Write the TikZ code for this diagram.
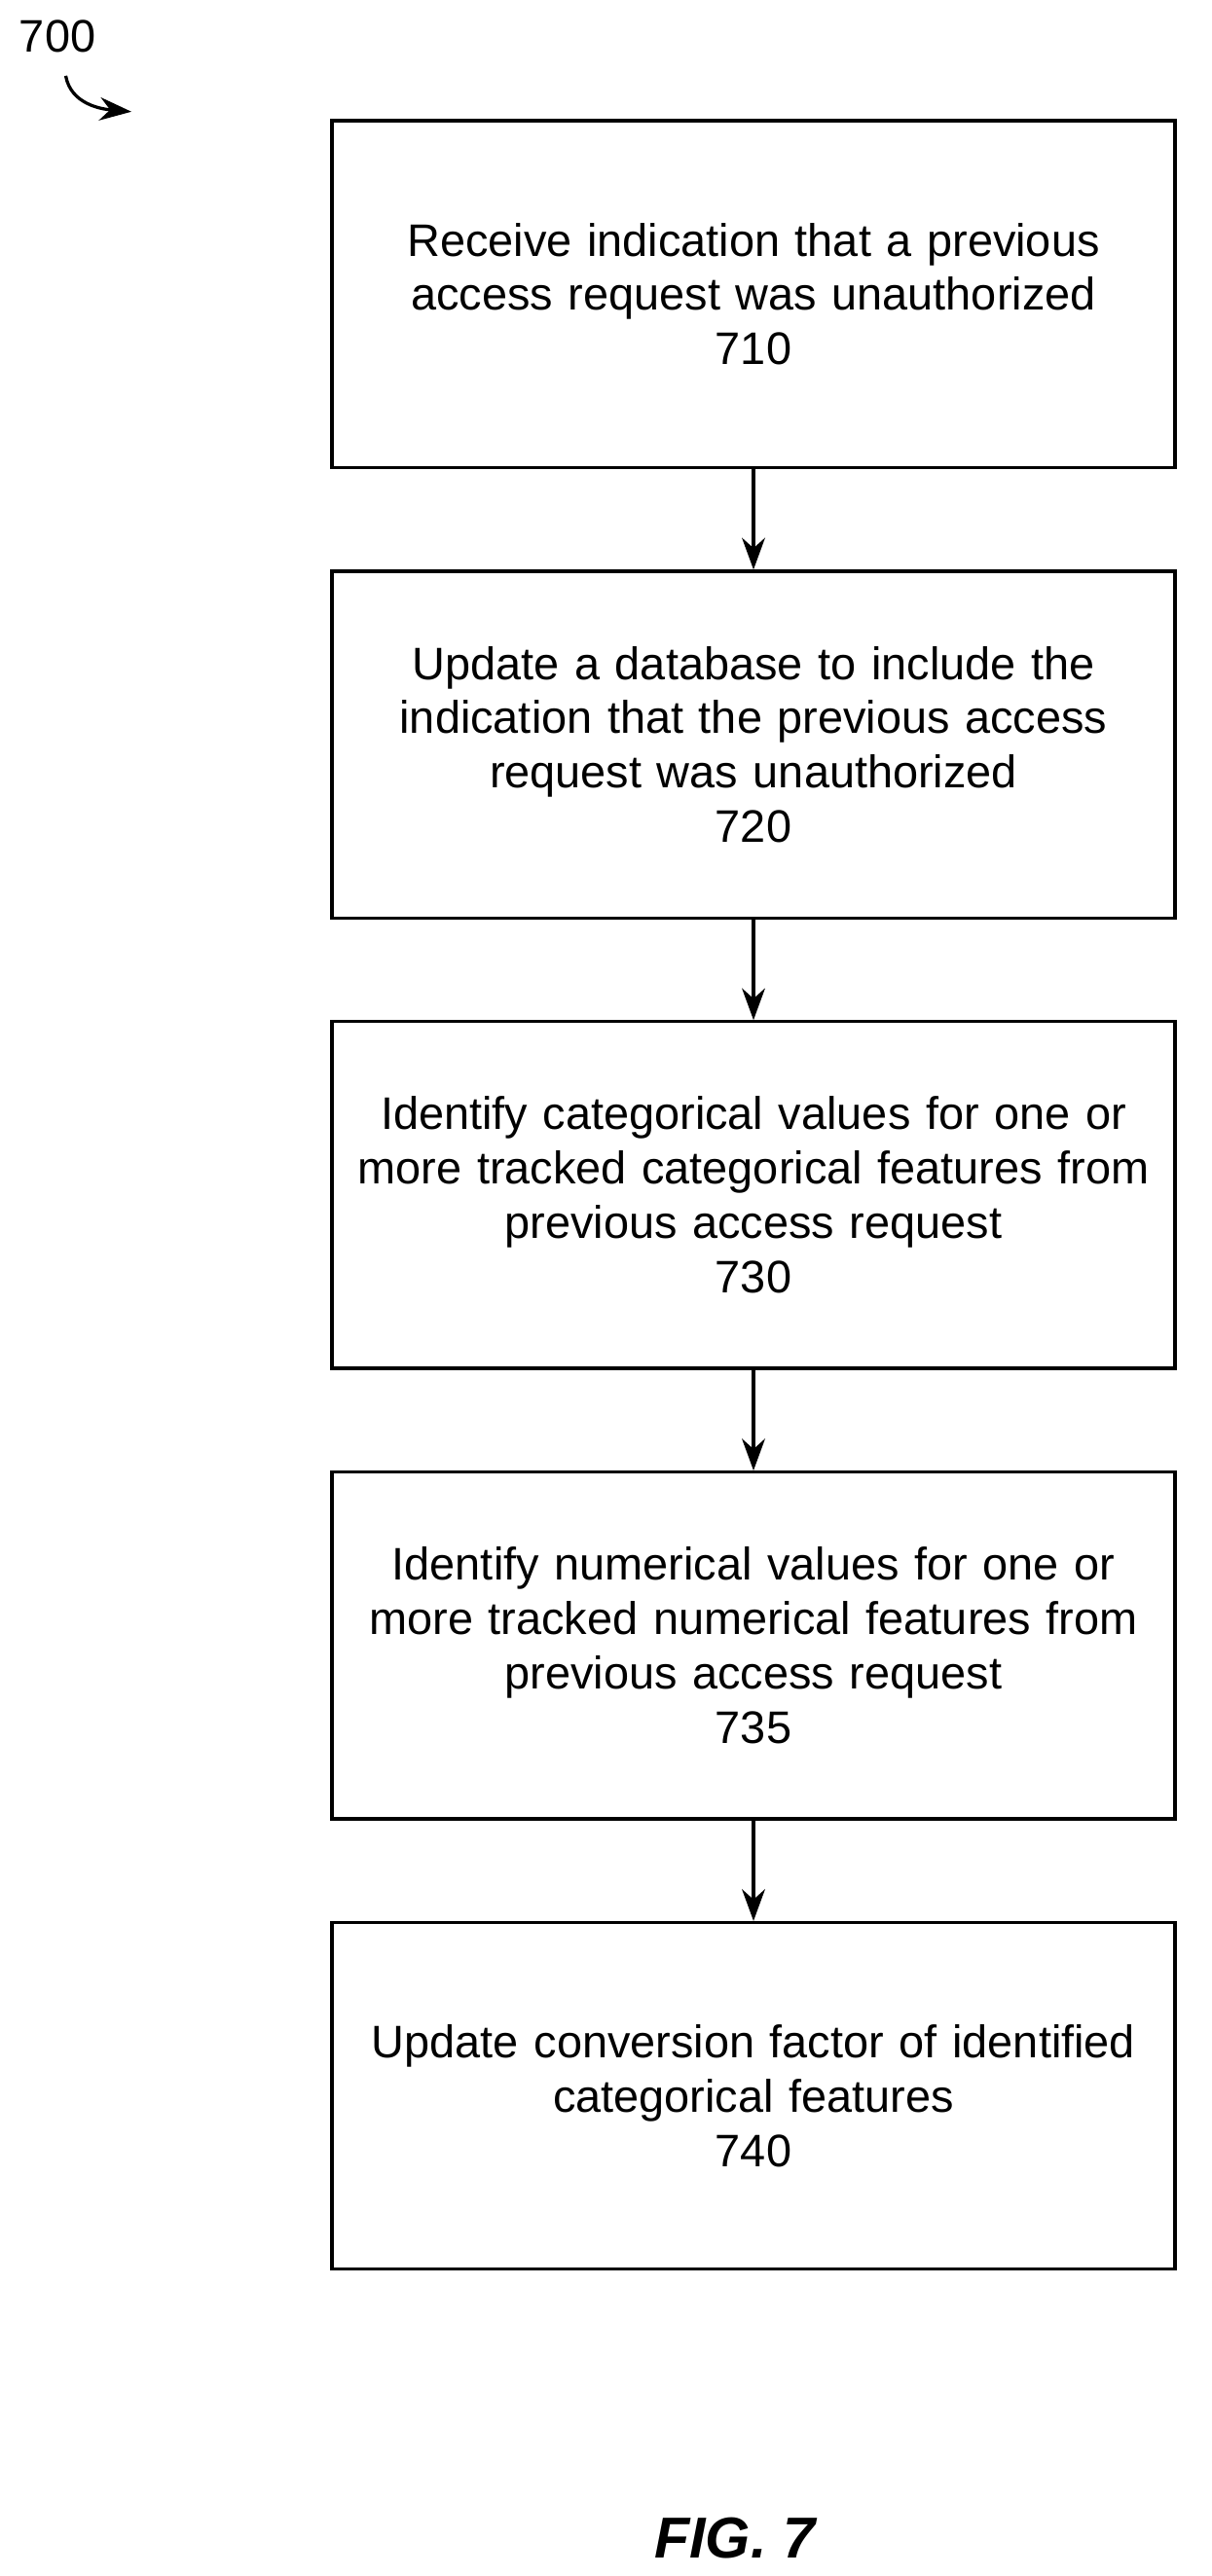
\documentclass[tikz,border=0pt]{standalone}
\usepackage{fontspec}
\setmainfont{Liberation Sans}
\usetikzlibrary{positioning, arrows.meta}

\begin{document}
\begin{tikzpicture}[->,>={Stealth[length=11pt,width=8pt]},semithick,line width=1.1pt,node distance=1.225cm]
  \tikzstyle{every node}=[font=\fontsize{15.8}{18.8}\selectfont]
  \tikzstyle{stepbox}=[draw=black,text=black,align=center,minimum width=10.26cm,minimum height=4.22cm,text width=10cm]

  \useasboundingbox (0,0) rectangle (14.74,-31.36);

  \node[stepbox] (710) at (9.17,-3.58) {Receive indication that a previous\\access request was unauthorized\\710};
  \node[stepbox] (720) [below=of 710] {Update a database to include the\\indication that the previous access\\request was unauthorized\\720};
  \node[stepbox] (730) [below=of 720] {Identify categorical values for one or\\more tracked categorical features from\\previous access request\\730};
  \node[stepbox] (735) [below=of 730] {Identify numerical values for one or\\more tracked numerical features from\\previous access request\\735};
  \node[stepbox] (740) [below=of 735] {Update conversion factor of identified\\categorical features\\740};

  \node (700) at (0.7,-0.44) {700};
  \coordinate (700end) at (1.6,-1.36);
  \draw (700.south) ++(0.1,-0.15) to[out=-80,in=175] (700end);

  \node (fig) at (8.94,-30.9) {\fontsize{20}{24}\selectfont\bfseries\itshape FIG. 7};

  \path (710) edge (720)
        (720) edge (730)
        (730) edge (735)
        (735) edge (740);
\end{tikzpicture}
\end{document}
